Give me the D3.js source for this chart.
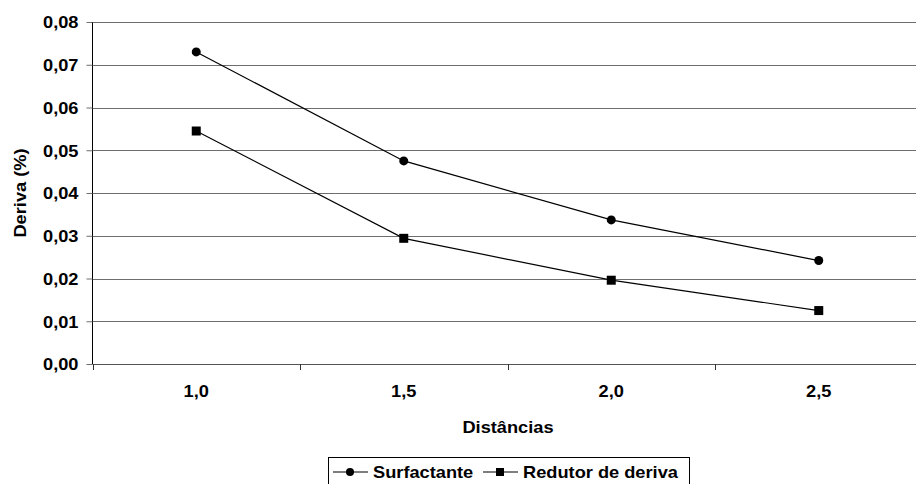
<!DOCTYPE html>
<html>
<head>
<meta charset="utf-8">
<script src="https://cdn.jsdelivr.net/npm/d3@7"></script>
<style>
  body { margin: 0; background: #fff; }
  text { font-family: "Liberation Sans", Arial, sans-serif; font-weight: bold; }
</style>
</head>
<body>
<div id="chart"></div>
<script>
// Data
const distancias = ["1,0", "1,5", "2,0", "2,5"];
const surfactante = [0.0730, 0.0475, 0.0337, 0.0242];
const redutor = [0.0545, 0.0294, 0.0196, 0.0125];
const yTicks = [0, 0.01, 0.02, 0.03, 0.04, 0.05, 0.06, 0.07, 0.08];

const width = 916;
const height = 484;
const plotL = 92.5, plotR = 922.5, plotT = 22, plotB = 364;
const fs = "16px";
const stretch = 1.14; // text in the source is a bit wider than plain Arial

const svg = d3.select("#chart")
  .append("svg")
  .attr("width", width)
  .attr("height", height);

const x = d3.scaleBand().domain(distancias).range([plotL, plotR]);
const y = d3.scaleLinear().domain([0, 0.08]).range([plotB, plotT]);
const fmt = d => d3.format(".2f")(d).replace(".", ",");

// gridlines
svg.append("g")
  .selectAll("line")
  .data(yTicks.slice(1))
  .enter()
  .append("line")
  .attr("x1", plotL).attr("x2", plotR)
  .attr("y1", d => Math.round(y(d)) + 0.5).attr("y2", d => Math.round(y(d)) + 0.5)
  .attr("stroke", "#6e6e6e")
  .attr("stroke-width", 1);

// y axis
const yAxis = svg.append("g")
  .attr("transform", `translate(${plotL},0)`)
  .call(d3.axisLeft(y).tickValues(yTicks).tickFormat(fmt).tickSize(6).tickPadding(8));
yAxis.select(".domain").attr("stroke", "#000").attr("d", `M0,${plotT}V${plotB}`);
yAxis.selectAll(".tick line").attr("stroke", "#6e6e6e");
yAxis.selectAll(".tick text").attr("font-size", fs).attr("fill", "#000")
  .style("font-family", "'Liberation Sans', Arial, sans-serif").style("font-weight", "bold")
  .attr("dy", "0.36em");

// x axis (ticks on category boundaries)
const xAxis = svg.append("g").attr("transform", `translate(0,${plotB})`);
xAxis.append("line")
  .attr("x1", plotL).attr("x2", plotR)
  .attr("y1", 0.5).attr("y2", 0.5)
  .attr("stroke", "#555");
xAxis.selectAll("line.tk")
  .data(distancias)
  .enter()
  .append("line")
  .attr("class", "tk")
  .attr("x1", d => Math.round(x(d)) + 0.5).attr("x2", d => Math.round(x(d)) + 0.5)
  .attr("y1", 0).attr("y2", 6)
  .attr("stroke", "#333");
xAxis.selectAll("text")
  .data(distancias)
  .enter()
  .append("text")
  .attr("x", d => x(d) + x.bandwidth() / 2)
  .attr("y", 33)
  .attr("text-anchor", "middle")
  .attr("font-size", fs)
  .text(d => d);

// axis titles
svg.append("text")
  .attr("x", 508).attr("y", 433)
  .attr("text-anchor", "middle")
  .attr("font-size", fs)
  .text("Distâncias");

svg.append("text")
  .attr("transform", "translate(26,193) rotate(-90)")
  .attr("text-anchor", "middle")
  .attr("font-size", fs)
  .text("Deriva (%)");

// lines
const cx = d => x(d) + x.bandwidth() / 2;
const line = d3.line().x((d, i) => cx(distancias[i])).y(d => y(d));

[surfactante, redutor].forEach(series => {
  svg.append("path")
    .datum(series)
    .attr("fill", "none")
    .attr("stroke", "#000")
    .attr("stroke-width", 1.2)
    .attr("d", line);
});

svg.selectAll("circle.s")
  .data(surfactante)
  .enter()
  .append("circle")
  .attr("class", "s")
  .attr("cx", (d, i) => cx(distancias[i]))
  .attr("cy", d => y(d))
  .attr("r", 4.5)
  .attr("fill", "#000");

svg.selectAll("rect.r")
  .data(redutor)
  .enter()
  .append("rect")
  .attr("class", "r")
  .attr("x", (d, i) => cx(distancias[i]) - 4.5)
  .attr("y", d => y(d) - 4.5)
  .attr("width", 9).attr("height", 9)
  .attr("fill", "#000");

// legend
const lg = svg.append("g").attr("transform", "translate(328,457)");
lg.append("rect")
  .attr("x", 0.5).attr("y", 0.5)
  .attr("width", 361).attr("height", 40)
  .attr("fill", "#fff")
  .attr("stroke", "#000");

const items = [
  { name: "Surfactante", shape: "circle", x: 5 },
  { name: "Redutor de deriva", shape: "square", x: 155 }
];
items.forEach(it => {
  const g = lg.append("g").attr("transform", `translate(${it.x},15)`);
  g.append("line").attr("x1", 0).attr("x2", 35).attr("y1", 0).attr("y2", 0)
    .attr("stroke", "#000").attr("stroke-width", 1.2);
  if (it.shape === "circle") {
    g.append("circle").attr("cx", 17).attr("cy", 0).attr("r", 4).attr("fill", "#000");
  } else {
    g.append("rect").attr("x", 13).attr("y", -4).attr("width", 8).attr("height", 8).attr("fill", "#000");
  }
  g.append("text").attr("x", 40).attr("y", 5.5).attr("font-size", fs).text(it.name);
});

// widen every label horizontally around its own anchor
svg.selectAll("text").each(function () {
  const t = d3.select(this);
  const tx = +t.attr("x") || 0;
  const prev = t.attr("transform") || "";
  t.attr("transform", `${prev} translate(${tx},0) scale(${stretch},1) translate(${-tx},0)`);
});
</script>
</body>
</html>
